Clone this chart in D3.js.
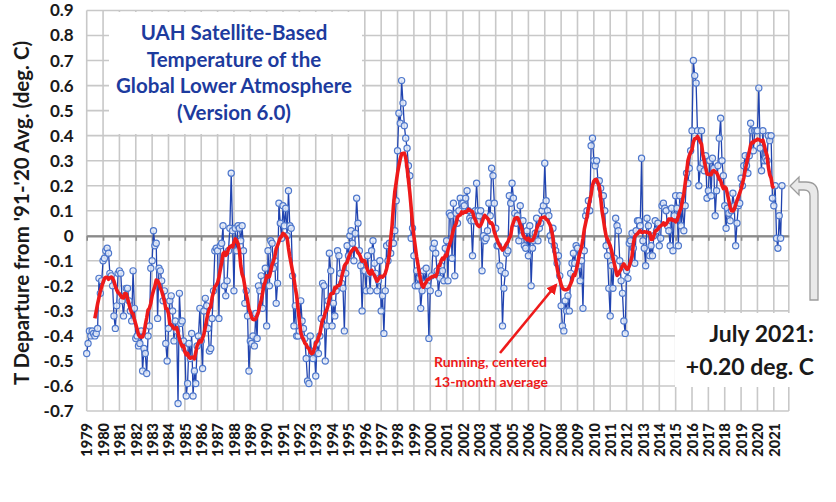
<!DOCTYPE html>
<html><head><meta charset="utf-8">
<script src="https://cdn.jsdelivr.net/npm/d3@7"></script>
<style>
body{margin:0;background:#fff;}
svg{display:block;font-family:Lato,'Open Sans',sans-serif;}
</style>
</head><body>
<svg id="chart" width="836" height="502"></svg>
<script>
// ---------------- data ----------------
const yearLabels = d3.range(1979, 2022).map(String);
const yTicks = [-0.7,-0.6,-0.5,-0.4,-0.3,-0.2,-0.1,0,0.1,0.2,0.3,0.4,0.5,0.6,0.7,0.8,0.9];
const titleLines = ["UAH Satellite-Based","Temperature of the","Global Lower Atmosphere","(Version 6.0)"];
const yAxisTitle = "T Departure from '91-'20 Avg. (deg. C)";
const noteLines = ["July 2021:","+0.20 deg. C"];
const smoothLabel = ["Running, centered","13-month average"];
// monthly anomalies, Jan 1979 .. Jul 2021
const anomalies = [
 -0.47,-0.43,-0.38,-0.40,-0.38,-0.39,-0.40,-0.39,-0.37,-0.17,-0.23,-0.18, // 1979
 -0.10,-0.09,-0.06,-0.05,-0.07,-0.15,-0.16,-0.20,-0.32,-0.37,-0.28,-0.15, // 1980
 -0.14,-0.15,-0.26,-0.32,-0.24,-0.21,-0.21,-0.26,-0.30,-0.34,-0.14,-0.29, // 1981
 -0.41,-0.40,-0.44,-0.43,-0.38,-0.54,-0.45,-0.47,-0.55,-0.40,-0.36,-0.13, // 1982
 -0.10, 0.02,-0.04,-0.03,-0.33,-0.13,-0.14,-0.18,-0.26,-0.22,-0.43,-0.50, // 1983
 -0.37,-0.26,-0.24,-0.30,-0.42,-0.34,-0.38,-0.67,-0.23,-0.35,-0.34,-0.42, // 1984
 -0.45,-0.64,-0.59,-0.43,-0.49,-0.39,-0.64,-0.54,-0.59,-0.44,-0.40,-0.29, // 1985
 -0.42,-0.53,-0.30,-0.25,-0.28,-0.37,-0.46,-0.45,-0.33,-0.22,-0.06,-0.05, // 1986
 -0.06,-0.33,-0.04,-0.03, 0.04,-0.20,-0.24,-0.18,-0.06, 0.03, 0.25, 0.02, // 1987
 -0.22, 0.03,-0.06, 0.04, 0.03,-0.02, 0.04,-0.06,-0.27,-0.22,-0.32,-0.54, // 1988
 -0.42,-0.43,-0.40,-0.44,-0.31,-0.41,-0.20,-0.22,-0.16,-0.29,-0.18,-0.13, // 1989
 -0.36,-0.06,-0.20,-0.02,-0.03,-0.13,-0.10,-0.27,-0.19, 0.13, 0.05,-0.01, // 1990
  0.12, 0.04, 0.11, 0.00, 0.18, 0.04, 0.03,-0.16,-0.36,-0.28,-0.40,-0.40, // 1991
 -0.38,-0.26,-0.34,-0.37,-0.41,-0.49,-0.58,-0.59,-0.40,-0.47,-0.49,-0.46, // 1992
 -0.56,-0.43,-0.47,-0.40,-0.33,-0.19,-0.20,-0.50,-0.36,-0.26,-0.07,-0.14, // 1993
 -0.36,-0.27,-0.32,-0.22,-0.06,-0.08,-0.15,-0.19,-0.21,-0.38,-0.15,-0.04, // 1994
 -0.08, 0.00, 0.02,-0.03,-0.10, 0.01, 0.15, 0.05,-0.06,-0.12,-0.30,-0.14, // 1995
 -0.14,-0.22,-0.08,-0.15,-0.22,-0.06,-0.02,-0.11,-0.15,-0.22,-0.18,-0.10, // 1996
 -0.30,-0.24,-0.39,-0.22,-0.04,-0.10,-0.03,-0.07,-0.03,-0.03, 0.02, 0.14, // 1997
  0.34, 0.49, 0.45, 0.62, 0.53, 0.44, 0.39, 0.35, 0.28, 0.24,-0.01, 0.03, // 1998
 -0.08,-0.20,-0.14,-0.20,-0.17,-0.29,-0.22,-0.14,-0.19,-0.13,-0.20,-0.41, // 1999
 -0.22,-0.16,-0.05,-0.03,-0.07,-0.14,-0.23,-0.17,-0.12,-0.14,-0.18,-0.05, // 2000
 -0.02,-0.18, 0.09, 0.08,-0.09, 0.13,-0.16, 0.09, 0.05, 0.10, 0.15, 0.13, // 2001
  0.13, 0.12, 0.15, 0.18, 0.10, 0.07, 0.06,-0.08, 0.06, 0.10, 0.21, 0.10, // 2002
  0.08, 0.10,-0.14, 0.00,-0.02,-0.01, 0.02, 0.13, 0.08, 0.27, 0.24, 0.13, // 2003
  0.03,-0.04,-0.04,-0.12,-0.14,-0.36,-0.21,-0.15,-0.07,-0.06, 0.16, 0.13, // 2004
  0.21, 0.15, 0.09, 0.05, 0.08,-0.02, 0.12, 0.00, 0.06,-0.04,-0.05, 0.02, // 2005
 -0.08, 0.04,-0.20,-0.05,-0.02, 0.01, 0.07,-0.02, 0.03, 0.05, 0.10, 0.12, // 2006
  0.29, 0.14, 0.10, 0.08, 0.00,-0.02, 0.03,-0.04,-0.06,-0.11,-0.08,-0.16, // 2007
 -0.28,-0.36,-0.38,-0.26,-0.30,-0.24,-0.30,-0.15,-0.11,-0.07,-0.11,-0.04, // 2008
 -0.05,-0.12,-0.18,-0.10,-0.29,-0.06, 0.08, 0.10, 0.14, 0.10, 0.36, 0.39, // 2009
  0.30, 0.28, 0.30, 0.22, 0.22, 0.19, 0.16, 0.16, 0.10,-0.04,-0.08,-0.21, // 2010
 -0.32,-0.12,-0.21,-0.09, 0.07, 0.04, 0.02,-0.10,-0.18,-0.23,-0.34,-0.39, // 2011
 -0.14,-0.17,-0.03,-0.02, 0.01,-0.05,-0.11, 0.02, 0.06, 0.06, 0.04, 0.31, // 2012
 -0.02,-0.05,-0.12, 0.07, 0.04,-0.08,-0.04,-0.08, 0.00, 0.06, 0.02, 0.05, // 2013
 -0.04,-0.01, 0.12, 0.13, 0.11, 0.10, 0.04, 0.02,-0.04, 0.11,-0.06, 0.08, // 2014
  0.16, 0.11,-0.04, 0.16, 0.04, 0.12, 0.02, 0.12, 0.25, 0.21, 0.27, 0.34, // 2015
  0.42, 0.70, 0.64, 0.61, 0.42, 0.20, 0.27, 0.42, 0.29, 0.26, 0.32, 0.15, // 2016
  0.18, 0.30, 0.16, 0.31, 0.27, 0.08, 0.18, 0.28, 0.39, 0.47, 0.30, 0.24, // 2017
  0.12, 0.03, 0.11, 0.09, 0.06, 0.10, 0.17, 0.12,-0.04, 0.05, 0.12, 0.13, // 2018
  0.23, 0.20, 0.28, 0.32, 0.28, 0.25, 0.32, 0.45, 0.42, 0.34, 0.42, 0.42, // 2019
  0.42, 0.59, 0.35, 0.26, 0.42, 0.30, 0.31, 0.30, 0.40, 0.38, 0.40, 0.15, // 2020
  0.12, 0.20,-0.01,-0.05, 0.08,-0.01, 0.20                                // 2021
];

// running, centered 13-month average of the monthly series
const running = anomalies.map((v, i) =>
  (i >= 6 && i < anomalies.length - 6) ? d3.mean(anomalies.slice(i - 6, i + 7)) : null);

// ---------------- layout ----------------
const svg = d3.select("#chart");
const plot = {left: 86.7, right: 788.8, top: 10.5, bottom: 411};
const x = d3.scaleLinear().domain([0, 515]).range([plot.left, plot.right]);
const y = d3.scaleLinear().domain([-0.7, 0.9]).range([plot.bottom, plot.top]);
const yearIdx = d3.range(0, yearLabels.length).map(k => k * 12);

const gridColor = "#c8c8c8";

// horizontal gridlines
svg.append("g").selectAll("line").data(yTicks).join("line")
  .attr("x1", plot.left).attr("x2", plot.right)
  .attr("y1", d => y(d)).attr("y2", d => y(d))
  .attr("stroke", gridColor).attr("stroke-width", 1.6);
// vertical gridlines at each year
svg.append("g").selectAll("line").data(yearIdx.concat([515])).join("line")
  .attr("x1", d => x(d)).attr("x2", d => x(d))
  .attr("y1", plot.top).attr("y2", plot.bottom)
  .attr("stroke", gridColor).attr("stroke-width", 1.6);

// white boxes behind title and note
svg.append("rect").attr("x", 109).attr("y", 12).attr("width", 253).attr("height", 122).attr("fill", "#fff");
svg.append("rect").attr("x", 675).attr("y", 313).attr("width", 150).attr("height", 74).attr("fill", "#fff");

// zero axis with tick marks
const xAxis = d3.axisBottom(x).tickValues(yearIdx).tickFormat("").tickSize(5).tickSizeOuter(0);
const gx0 = svg.append("g").attr("transform", `translate(0,${y(0)})`).call(xAxis);
gx0.select(".domain").attr("stroke", "#8a8a8a").attr("stroke-width", 2.2);
gx0.selectAll(".tick line").attr("stroke", "#8a8a8a").attr("stroke-width", 1.6);

// y axis labels
const yAxis = d3.axisLeft(y).tickValues(yTicks)
  .tickFormat(d => d === 0 ? "0" : d.toFixed(1)).tickSize(0).tickPadding(13);
const gy = svg.append("g").attr("transform", `translate(${plot.left},0)`).call(yAxis);
gy.select(".domain").remove();
gy.selectAll("text").attr("font-family", "Lato, sans-serif").attr("font-weight", "bold")
  .attr("font-size", 17).attr("fill", "#1a1a1a");

// x axis year labels (rotated)
const xLab = d3.axisBottom(x).tickValues(yearIdx).tickFormat((d, i) => yearLabels[i]).tickSize(0).tickPadding(0);
const gxl = svg.append("g").attr("transform", `translate(0,${plot.bottom})`).call(xLab);
gxl.select(".domain").remove();
gxl.selectAll("text")
  .attr("transform", "rotate(-90)")
  .attr("text-anchor", "end")
  .attr("x", -12).attr("y", 0).attr("dy", "0.36em")
  .attr("font-family", "Lato, sans-serif").attr("font-weight", "900")
  .attr("font-size", 14.5).attr("fill", "#1a1a1a");

// y axis title
svg.append("text").attr("transform", "translate(29,213) rotate(-90)")
  .attr("text-anchor", "middle").attr("font-weight", "bold").attr("font-size", 20.5)
  .attr("fill", "#1a1a1a").text(yAxisTitle);

// monthly series line + markers
const line = d3.line().x((d, i) => x(i)).y(d => y(d));
svg.append("path").datum(anomalies).attr("d", line)
  .attr("fill", "none").attr("stroke", "#2144b0").attr("stroke-width", 1.3);
svg.append("g").selectAll("circle").data(anomalies).join("circle")
  .attr("cx", (d, i) => x(i)).attr("cy", d => y(d)).attr("r", 3.1)
  .attr("fill", "#e4ebf8").attr("fill-opacity", 0.85)
  .attr("stroke", "#4f78cc").attr("stroke-width", 1.2);

// running mean
const rline = d3.line().defined(d => d != null).x((d, i) => x(i)).y(d => y(d));
svg.append("path").datum(running).attr("d", rline)
  .attr("fill", "none").attr("stroke", "#ee1a1a").attr("stroke-width", 3.6)
  .attr("stroke-linejoin", "round");

// title
const title = svg.append("text").attr("text-anchor", "middle").attr("font-weight", "bold")
  .attr("font-size", 20.5).attr("fill", "#1d3b9e");
titleLines.forEach((t, i) => title.append("tspan").attr("x", 234).attr("y", 40 + i * 26.7).text(t));

// red label and arrow
const red = "#ee1a1a";
const rl = svg.append("text").attr("font-weight", "bold").attr("font-size", 14).attr("fill", red);
smoothLabel.forEach((t, i) => rl.append("tspan").attr("x", 434).attr("y", 367 + i * 20).text(t));
svg.append("defs").append("marker").attr("id", "ah").attr("viewBox", "0 0 10 10")
  .attr("refX", 8).attr("refY", 5).attr("markerWidth", 4.2).attr("markerHeight", 4.2)
  .attr("orient", "auto").append("path").attr("d", "M0,0L10,5L0,10z").attr("fill", red);
svg.append("line").attr("x1", 500).attr("y1", 353).attr("x2", 556).attr("y2", 285)
  .attr("stroke", red).attr("stroke-width", 2.6).attr("marker-end", "url(#ah)");

// July 2021 note
const note = svg.append("text").attr("text-anchor", "end").attr("font-weight", "bold")
  .attr("font-size", 23).attr("fill", "#1a1a1a");
noteLines.forEach((t, i) => note.append("tspan").attr("x", 814).attr("y", 342 + i * 33).text(t));

// gray bent arrow pointing to the last value
svg.append("path")
  .attr("d", "M790,186 L799,177 L799,182 L806,182 Q818,182 818,194 L818,300 L810,300 L810,196 Q810,190 804,190 L799,190 L799,195 Z")
  .attr("fill", "#e9e9e9").attr("stroke", "#9c9c9c").attr("stroke-width", 1.3);
</script>
</body></html>
